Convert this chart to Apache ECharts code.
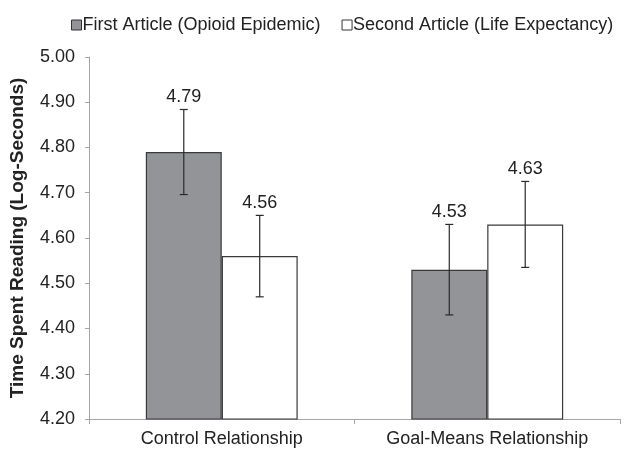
<!DOCTYPE html>
<html><head><meta charset="utf-8">
<script src="https://cdn.jsdelivr.net/npm/echarts@6/dist/echarts.min.js"></script>
<style>html,body{margin:0;padding:0;background:#fff}#c{width:641px;height:452px}</style>
</head><body><div id="c"></div>
<script>
const categories = ['Control Relationship', 'Goal-Means Relationship'];
const seriesNames = ['First Article (Opioid Epidemic)', 'Second Article (Life Expectancy)'];
const firstArticle = [4.79, 4.53];
const secondArticle = [4.56, 4.63];
const firstErr = [0.094, 0.10];
const secondErr = [0.09, 0.095];
const yTicks = ['4.20','4.30','4.40','4.50','4.60','4.70','4.80','4.90','5.00'];

const FONT = 'Liberation Sans, Arial, Helvetica, sans-serif';
const BARW = 0.286;
const chart = echarts.init(document.getElementById('c'));

function errSeries(vals, errs, idx) {
  return {
    type: 'custom',
    z: 10,
    data: vals.map((v, i) => [i, v, errs[i]]),
    renderItem: function (params, api) {
      const i = api.value(0), v = api.value(1), e = api.value(2);
      const bw = api.size([1, 0])[0] * BARW;
      const off = (idx === 0 ? -0.5 : 0.5) * bw;
      const top = api.coord([i, v + e]);
      const bot = api.coord([i, v - e]);
      const x = top[0] + off;
      const cap = 4;
      const st = { stroke: '#2a2a2a', lineWidth: 1.2 };
      return {
        type: 'group',
        children: [
          { type: 'line', shape: { x1: x, y1: top[1], x2: x, y2: bot[1] }, style: st },
          { type: 'line', shape: { x1: x - cap, y1: top[1], x2: x + cap, y2: top[1] }, style: st },
          { type: 'line', shape: { x1: x - cap, y1: bot[1], x2: x + cap, y2: bot[1] }, style: st },
          { type: 'text', x: x, y: top[1] - 3, style: { text: v.toFixed(2), fill: '#222', font: '18px ' + FONT, align: 'center', verticalAlign: 'bottom' } }
        ]
      };
    }
  };
}

chart.setOption({
  animation: false,
  textStyle: { fontFamily: FONT },
  legend: {
    top: 11, left: 66, itemGap: 21, itemWidth: 10, itemHeight: 10,
    icon: 'rect',
    textStyle: { fontSize: 18, color: '#222', padding: [0, 0, 0, -4] },
    data: [
      { name: seriesNames[0], itemStyle: { color: '#939497', borderColor: '#333', borderWidth: 1 } },
      { name: seriesNames[1], itemStyle: { color: '#fff', borderColor: '#333', borderWidth: 1 } }
    ]
  },
  grid: { left: 89, right: 21, top: 57, bottom: 33 },
  xAxis: {
    type: 'category', data: categories, boundaryGap: true,
    axisLine: { lineStyle: { color: '#a6a6a6', width: 1 } },
    axisTick: { show: true, length: 5, lineStyle: { color: '#a6a6a6' } },
    axisLabel: { fontSize: 18, color: '#222', margin: 11 }
  },
  yAxis: {
    type: 'value', min: 4.2, max: 5.0, interval: 0.1,
    name: 'Time Spent Reading (Log-Seconds)', nameLocation: 'middle', nameGap: 62,
    nameTextStyle: { fontSize: 19, fontWeight: 'bold', color: '#222' },
    axisLine: { show: true, lineStyle: { color: '#a6a6a6', width: 1 } },
    axisTick: { show: true, length: 4, lineStyle: { color: '#a6a6a6' } },
    splitLine: { show: false },
    axisLabel: { fontSize: 18, color: '#222', margin: 14,
      formatter: v => { const s = v.toFixed(2); return yTicks.includes(s) ? s : ''; } }
  },
  series: [
    { name: seriesNames[0], type: 'bar', data: firstArticle, barWidth: (BARW * 100) + '%', barGap: '0%',
      itemStyle: { color: '#939497', borderColor: '#3a3a3a', borderWidth: 1.2 } },
    { name: seriesNames[1], type: 'bar', data: secondArticle, barWidth: (BARW * 100) + '%', barGap: '0%',
      itemStyle: { color: '#ffffff', borderColor: '#3a3a3a', borderWidth: 1.2 } },
    errSeries(firstArticle, firstErr, 0),
    errSeries(secondArticle, secondErr, 1)
  ]
});
</script></body></html>
